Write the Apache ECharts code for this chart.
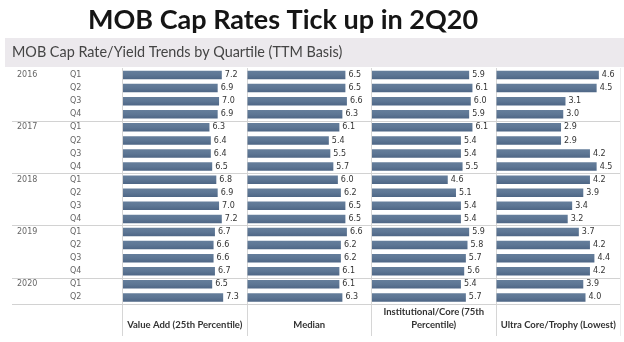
<!DOCTYPE html>
<html>
<head>
<meta charset="utf-8">
<script src="https://cdn.jsdelivr.net/npm/echarts@6/dist/echarts.min.js"></script>
<style>
  html, body { margin: 0; padding: 0; background: #ffffff; }
  #chart { width: 624px; height: 342px; }
</style>
</head>
<body>
<div id="chart"></div>
<script>
// Period rows (top to bottom)
const periodYear = ['2016','2016','2016','2016','2017','2017','2017','2017','2018','2018','2018','2018','2019','2019','2019','2019','2020','2020'];
const periodQuarter = ['Q1','Q2','Q3','Q4','Q1','Q2','Q3','Q4','Q1','Q2','Q3','Q4','Q1','Q2','Q3','Q4','Q1','Q2'];

// Cap rate / yield by quartile (%)
const valueAdd = [7.2,6.9,7.0,6.9, 6.3,6.4,6.4,6.5, 6.8,6.9,7.0,7.2, 6.7,6.6,6.6,6.7, 6.5,7.3];
const median = [6.5,6.5,6.6,6.3, 6.1,5.4,5.5,5.7, 6.0,6.2,6.5,6.5, 6.6,6.2,6.2,6.1, 6.1,6.3];
const institutional = [5.9,6.1,6.0,5.9, 6.1,5.4,5.4,5.5, 4.6,5.1,5.4,5.4, 5.9,5.8,5.7,5.6, 5.4,5.7];
const ultraCore = [4.6,4.5,3.1,3.0, 2.9,2.9,4.2,4.5, 4.2,3.9,3.4,3.2, 3.7,4.2,4.4,4.2, 3.9,4.0];

const columnHeaders = ['Value Add (25th Percentile)', 'Median', 'Institutional/Core (75th\nPercentile)', 'Ultra Core/Trophy (Lowest)'];
const columnSeries = [valueAdd, median, institutional, ultraCore];
const columnAxisMax = [9, 8.2, 7.5, 5.55];

const titleText = 'MOB Cap Rates Tick up in 2Q20';
const subtitleText = 'MOB Cap Rate/Yield Trends by Quartile (TTM Basis)';

// Layout
const ROW_TOP = 68.5;
const ROW_H = 13.08;
const PLOT_H = ROW_H * periodYear.length;
const PANEL_LEFT = [122, 246.5, 371, 495.5];
const PANEL_W = 124.5;
const TABLE_LEFT = 12;
const TABLE_RIGHT = 620;
const TABLE_BOTTOM = 336;

const numFont = 'DejaVu Sans';
const rowLabels = periodYear.map((y, i) => y + ' ' + periodQuarter[i]);

// Year boundaries (row index where a new year starts, plus the table end)
const yearBreaks = [];
periodYear.forEach((y, i) => { if (i > 0 && y !== periodYear[i - 1]) yearBreaks.push(i); });
yearBreaks.push(periodYear.length);

const barColor = new echarts.graphic.LinearGradient(0, 0, 0, 1, [
  { offset: 0, color: '#657e9b' },
  { offset: 0.5, color: '#5d7694' },
  { offset: 1, color: '#4e6685' }
]);

const grids = [{ left: TABLE_LEFT, top: ROW_TOP, width: TABLE_RIGHT - TABLE_LEFT, height: PLOT_H }];
const xAxes = [{ gridIndex: 0, type: 'value', min: 0, max: 1, show: false }];
const yAxes = [
  {
    gridIndex: 0, type: 'category', data: rowLabels, inverse: true,
    axisLine: { show: false }, axisTick: { show: false }, splitLine: { show: false },
    axisLabel: {
      interval: 0, align: 'left', margin: -5,
      formatter: (v, i) => {
        const showYear = i === 0 || periodYear[i] !== periodYear[i - 1];
        return '{y|' + (showYear ? periodYear[i] : '') + '}{q|' + periodQuarter[i] + '}';
      },
      rich: {
        y: { width: 53, fontFamily: numFont, fontSize: 8, color: '#666' },
        q: { fontFamily: numFont, fontSize: 8, color: '#666' }
      }
    }
  },
  { gridIndex: 0, type: 'value', min: 0, max: periodYear.length, inverse: true, show: false }
];
const series = [{
  type: 'scatter', xAxisIndex: 0, yAxisIndex: 1, data: [], silent: true,
  markLine: {
    silent: true, symbol: 'none', animation: false,
    label: { show: false },
    lineStyle: { color: '#d2d2d2', width: 1, type: 'solid' },
    data: yearBreaks.map(b => ({ yAxis: b }))
  }
}];

columnSeries.forEach((data, k) => {
  const g = k + 1;
  grids.push({ left: PANEL_LEFT[k] + 1, top: ROW_TOP, width: PANEL_W - 1, height: PLOT_H });
  xAxes.push({
    gridIndex: g, type: 'value', min: 0, max: columnAxisMax[k],
    axisLine: { show: false }, axisTick: { show: false }, axisLabel: { show: false }, splitLine: { show: false },
    name: columnHeaders[k], nameLocation: 'middle', nameGap: 27,
    nameTextStyle: { fontFamily: 'Lato', fontWeight: 'bold', fontSize: 9.5, color: '#333', verticalAlign: 'bottom', align: 'center', lineHeight: 12.5 }
  });
  yAxes.push({
    gridIndex: g, type: 'category', data: rowLabels, inverse: true,
    axisLine: { show: false }, axisTick: { show: false }, axisLabel: { show: false }, splitLine: { show: false }
  });
  series.push({
    type: 'bar', xAxisIndex: g, yAxisIndex: k + 2, data: data,
    barWidth: 8.5, itemStyle: { color: barColor },
    label: {
      show: true, position: 'right', distance: 3,
      formatter: p => p.value.toFixed(1),
      fontFamily: numFont, fontSize: 8, color: '#333'
    }
  });
});

// Column divider lines running through the table and header area
const dividers = PANEL_LEFT.concat([TABLE_RIGHT]).map((x, i) => ({
  type: 'line', silent: true, z: 1,
  shape: { x1: Math.round(x) + 0.5, y1: ROW_TOP - 0.5, x2: Math.round(x) + 0.5, y2: TABLE_BOTTOM },
  style: { stroke: i === 4 ? '#ececec' : '#d6d6d6', lineWidth: 1 }
}));

const chart = echarts.init(document.getElementById('chart'), null, { renderer: 'canvas' });
chart.setOption({
  animation: false,
  backgroundColor: '#ffffff',
  title: [
    { text: titleText, left: 88, top: 7, padding: 0,
      textStyle: { fontFamily: 'Lato', fontWeight: 'bold', fontSize: 27, color: '#151515' } },
    { text: subtitleText, left: 12, top: 45, padding: 0,
      textStyle: { fontFamily: 'Lato', fontWeight: 'normal', fontSize: 14.4, color: '#444' } }
  ],
  graphic: [
    { type: 'rect', silent: true, z: -1, shape: { x: 5, y: 38, width: 619, height: 29 }, style: { fill: '#ece9ed' } }
  ].concat(dividers),
  grid: grids,
  xAxis: xAxes,
  yAxis: yAxes,
  series: series
});
</script>
</body>
</html>
